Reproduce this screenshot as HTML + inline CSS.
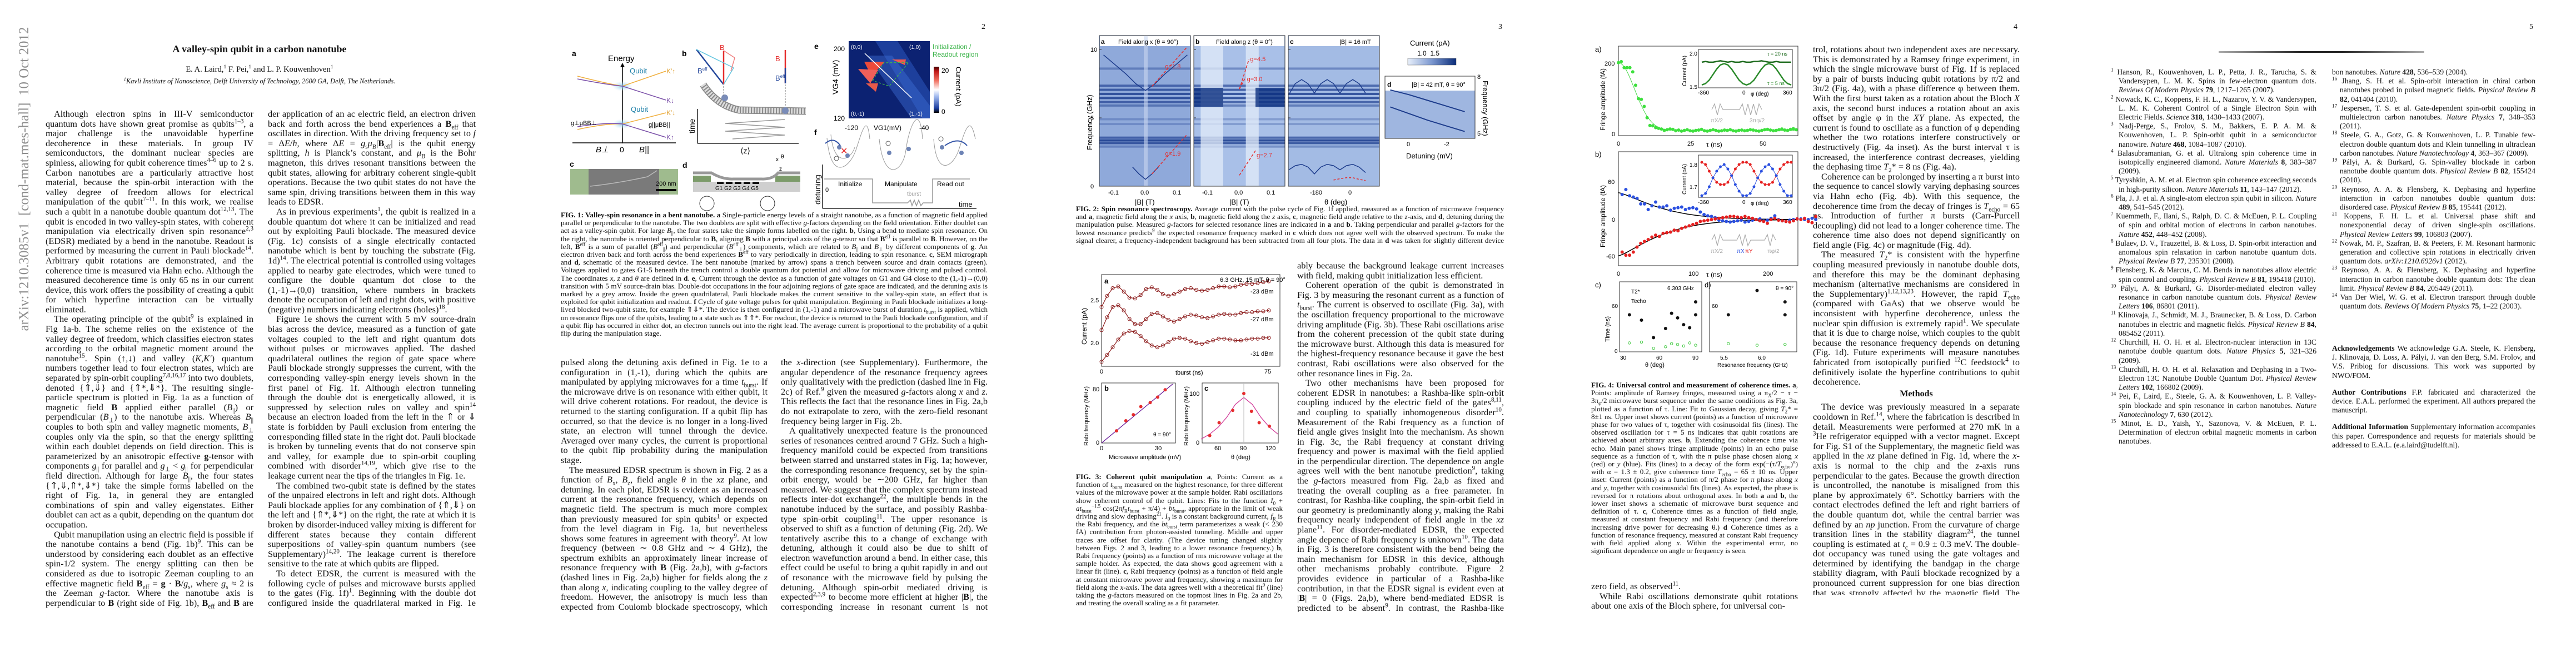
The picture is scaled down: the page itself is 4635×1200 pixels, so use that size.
<!DOCTYPE html>
<html lang="en">
<head>
<meta charset="utf-8">
<title>A valley-spin qubit in a carbon nanotube</title>
<style>
html,body{margin:0;padding:0;background:#fff;}
body{width:4635px;height:1200px;position:relative;overflow:hidden;font-family:"Liberation Serif",serif;color:#111;}
.col{position:absolute;font-size:16.3px;line-height:17.6px;text-align:justify;overflow:hidden;hyphens:auto;}
.col p{margin:0;text-indent:15px;}
.col p.ni{text-indent:0;}
.cap{position:absolute;font-size:13.1px;line-height:14.2px;text-align:justify;overflow:hidden;hyphens:auto;}
.ref{position:absolute;font-size:13.6px;line-height:16.2px;text-align:justify;overflow:hidden;hyphens:auto;}
.ref p{margin:0;padding-left:14px;text-indent:-14px;}
sup,sub{font-size:68%;line-height:0;}
.pn{position:absolute;top:41px;font-size:14px;}
h3{margin:4px 0 6px 0;font-size:16px;text-align:center;font-weight:bold;}
#figs{position:absolute;left:0;top:0;}
</style>
</head>
<body>

<div style="position:absolute;left:44px;top:322px;transform:translate(-50%,-50%) rotate(-90deg);white-space:nowrap;color:#8d8d8d;font-size:25px;">arXiv:1210.3085v1&nbsp; [cond-mat.mes-hall]&nbsp; 10 Oct 2012</div>

<div style="position:absolute;left:82px;width:770px;top:78px;text-align:center;font-weight:bold;font-size:18px;">A valley-spin qubit in a carbon nanotube</div>
<div style="position:absolute;left:82px;width:770px;top:117px;text-align:center;font-size:14.5px;">E. A. Laird,<sup>1</sup> F. Pei,<sup>1</sup> and L. P. Kouwenhoven<sup>1</sup></div>
<div style="position:absolute;left:82px;width:770px;top:139px;text-align:center;font-size:12.5px;font-style:italic;"><sup>1</sup>Kavli Institute of Nanoscience, Delft University of Technology, 2600 GA, Delft, The Netherlands.</div>

<div class="pn" style="left:1766px;">2</div>
<div class="pn" style="left:2696px;">3</div>
<div class="pn" style="left:3623px;">4</div>
<div class="pn" style="left:4551px;">5</div>

<!-- PAGE 1 -->
<div class="col" style="left:82px;top:196px;width:374px;height:900px;">
<p>Although electron spins in III-V semiconductor quantum dots have shown great promise as qubits<sup>1–3</sup>, a major challenge is the unavoidable hyperfine decoherence in these materials. In group IV semiconductors, the dominant nuclear species are spinless, allowing for qubit coherence times<sup>4–6</sup> up to 2 s. Carbon nanotubes are a particularly attractive host material, because the spin-orbit interaction with the valley degree of freedom allows for electrical manipulation of the qubit<sup>7–11</sup>. In this work, we realise such a qubit in a nanotube double quantum dot<sup>12,13</sup>. The qubit is encoded in two valley-spin states, with coherent manipulation via electrically driven spin resonance<sup>2,3</sup> (EDSR) mediated by a bend in the nanotube. Readout is performed by measuring the current in Pauli blockade<sup>14</sup>. Arbitrary qubit rotations are demonstrated, and the coherence time is measured via Hahn echo. Although the measured decoherence time is only 65 ns in our current device, this work offers the possibility of creating a qubit for which hyperfine interaction can be virtually eliminated.</p>
<p>The operating principle of the qubit<sup>9</sup> is explained in Fig 1a-b. The scheme relies on the existence of the valley degree of freedom, which classifies electron states according to the orbital magnetic moment around the nanotube<sup>15</sup>. Spin (↑,↓) and valley (<i>K</i>,<i>K′</i>) quantum numbers together lead to four electron states, which are separated by spin-orbit coupling<sup>7,8,16,17</sup> into two doublets, denoted {⇑,⇓} and {⇑*,⇓*}. The resulting single-particle spectrum is plotted in Fig. 1a as a function of magnetic field <b>B</b> applied either parallel (<i>B</i><sub>||</sub>) or perpendicular (<i>B</i><sub>⊥</sub>) to the nanotube axis. Whereas <i>B</i><sub>||</sub> couples to both spin and valley magnetic moments, <i>B</i><sub>⊥</sub> couples only via the spin, so that the energy splitting within each doublet depends on field direction. This is parameterized by an anisotropic effective <b>g</b>-tensor with components <i>g</i><sub>||</sub> for parallel and <i>g</i><sub>⊥</sub> &lt; <i>g</i><sub>||</sub> for perpendicular field direction. Although for large <i>B</i><sub>||</sub>, the four states {⇑,⇓,⇑*,⇓*} take the simple forms labelled on the right of Fig. 1a, in general they are entangled combinations of spin and valley eigenstates. Either doublet can act as a qubit, depending on the quantum dot occupation.</p>
<p>Qubit manupilation using an electric field is possible if the nanotube contains a bend (Fig. 1b)<sup>9</sup>. This can be understood by considering each doublet as an effective spin-1/2 system. The energy splitting can then be considered as due to isotropic Zeeman coupling to an effective magnetic field <b>B</b><sub>eff</sub> = <b>g</b> · <b>B</b>/<i>g</i><sub>s</sub>, where <i>g</i><sub>s</sub> ≈ 2 is the Zeeman <i>g</i>-factor. Where the nanotube axis is perpendicular to <b>B</b> (right side of Fig. 1b), <b>B</b><sub>eff</sub> and <b>B</b> are parallel. However, where the nanotube axis is at an angle (left side of Fig. 1b), the components <i>B</i><sub>||</sub> and <i>B</i><sub>⊥</sub> contribute differently to <b>B</b><sub>eff</sub>, tilting <b>B</b><sub>eff</sub> away from <b>B</b>. Under application of an ac electric field, an electron driven back and forth.</p>
</div>
<div class="col" style="left:482px;top:196px;width:374px;height:900px;">
<p class="ni">der application of an ac electric field, an electron driven back and forth across the bend experiences a <b>B</b><sub>eff</sub> that oscillates in direction. With the driving frequency set to <i>f</i> = Δ<i>E</i>/<i>h</i>, where Δ<i>E</i> = <i>g</i><sub>s</sub><i>μ</i><sub>B</sub>|<b>B</b><sub>eff</sub>| is the qubit energy splitting, <i>h</i> is Planck’s constant, and <i>μ</i><sub>B</sub> is the Bohr magneton, this drives resonant transitions between the qubit states, allowing for arbitrary coherent single-qubit operations. Because the two qubit states do not have the same spin, driving transitions between them in this way leads to EDSR.</p>
<p>As in previous experiments<sup>1</sup>, the qubit is realized in a double quantum dot where it can be initialized and read out by exploiting Pauli blockade. The measured device (Fig. 1c) consists of a single electrically contacted nanotube which is bent by touching the substrate (Fig. 1d)<sup>14</sup>. The electrical potential is controlled using voltages applied to nearby gate electrodes, which were tuned to configure the double quantum dot close to the (1,-1)→(0,0) transition, where numbers in brackets denote the occupation of left and right dots, with positive (negative) numbers indicating electrons (holes)<sup>18</sup>.</p>
<p>Figure 1e shows the current with 5 mV source-drain bias across the device, measured as a function of gate voltages coupled to the left and right quantum dots without pulses or microwaves applied. The dashed quadrilateral outlines the region of gate space where Pauli blockade strongly suppresses the current, with the corresponding valley-spin energy levels shown in the first panel of Fig. 1f. Although electron tunneling through the double dot is energetically allowed, it is suppressed by selection rules on valley and spin<sup>14</sup> because an electron loaded from the left in the ⇑ or ⇓ state is forbidden by Pauli exclusion from entering the corresponding filled state in the right dot. Pauli blockade is broken by tunneling events that do not conserve spin and valley, for example due to spin-orbit coupling combined with disorder<sup>14,19</sup>, which give rise to the leakage current near the tips of the triangles in Fig. 1e.</p>
<p>The combined two-qubit state is defined by the states of the unpaired electrons in left and right dots. Although Pauli blockade applies for any combination of {⇑,⇓} on the left and {⇑*,⇓*} on the right, the rate at which it is broken by disorder-induced valley mixing is different for different states because they contain different superpositions of valley-spin quantum numbers (see Supplementary)<sup>14,20</sup>. The leakage current is therefore sensitive to the rate at which qubits are flipped.</p>
<p>To detect EDSR, the current is measured with the following cycle of pulses and microwave bursts applied to the gates (Fig. 1f)<sup>1</sup>. Beginning with the double dot configured inside the quadrilateral marked in Fig. 1e initializes a long-lived blocked state. The device is then pulsed along the detuning axis.</p>
</div>

<!-- PAGE 2 -->
<div class="cap" style="left:1009px;top:380px;width:768px;height:244px;"><b>FIG. 1: Valley-spin resonance in a bent nanotube.</b> <b>a</b> Single-particle energy levels of a straight nanotube, as a function of magnetic field applied parallel or perpendicular to the nanotube. The two doublets are split with effective <i>g</i>-factors depending on the field orientation. Either doublet can act as a valley-spin qubit. For large <i>B</i><sub>||</sub>, the four states take the simple forms labelled on the right. <b>b</b>, Using a bend to mediate spin resonance. On the right, the nanotube is oriented perpendicular to <b>B</b>, aligning <b>B</b> with a principal axis of the <i>g</i>-tensor so that <b>B</b><sup>eff</sup> is parallel to <b>B</b>. However, on the left, <b>B</b><sup>eff</sup> is a sum of parallel (<i>B</i><sup>eff</sup><sub>||</sub>) and perpendicular (<i>B</i><sup>eff</sup><sub>⊥</sub>) components, which are related to <i>B</i><sub>||</sub> and <i>B</i><sub>⊥</sub> by different components of <b>g</b>. An electron driven back and forth across the bend experiences <b>B</b><sup>eff</sup> to vary periodically in direction, leading to spin resonance. <b>c</b>, SEM micrograph and <b>d</b>, schematic of the measured device. The bent nanotube (marked by arrow) spans a trench between source and drain contacts (green). Voltages applied to gates G1-5 beneath the trench control a double quantum dot potential and allow for microwave driving and pulsed control. The coordinates <i>x</i>, <i>z</i> and <i>θ</i> are defined in <b>d</b>. <b>e</b>, Current through the device as a function of gate voltages on G1 and G4 close to the (1,-1)→(0,0) transition with 5 mV source-drain bias. Double-dot occupations in the four adjoining regions of gate space are indicated, and the detuning axis is marked by a grey arrow. Inside the green quadrilateral, Pauli blockade makes the current sensitive to the valley-spin state, an effect that is exploited for qubit initialization and readout. <b>f</b> Cycle of gate voltage pulses for qubit manipulation. Beginning in Pauli blockade initializes a long-lived blocked two-qubit state, for example ⇑⇓*. The device is then configured in (1,-1) and a microwave burst of duration <i>t</i><sub>burst</sub> is applied, which on resonance flips one of the qubits, leading to a state such as ⇑⇑*. For readout, the device is returned to the Pauli blockade configuration, and if a qubit flip has occurred in either dot, an electron tunnels out into the right lead. The average current is proportional to the probability of a qubit flip during the manipulation stage.</div>

<div class="col" style="left:1009px;top:643px;width:372px;height:459px;">
<p class="ni">pulsed along the detuning axis defined in Fig. 1e to a configuration in (1,-1), during which the qubits are manipulated by applying microwaves for a time <i>t</i><sub>burst</sub>. If the microwave drive is on resonance with either qubit, it will drive coherent rotations. For readout, the device is returned to the starting configuration. If a qubit flip has occurred, so that the device is no longer in a long-lived state, an electron will tunnel through the device. Averaged over many cycles, the current is proportional to the qubit flip probability during the manipulation stage.</p>
<p>The measured EDSR spectrum is shown in Fig. 2 as a function of <i>B</i><sub>x</sub>, <i>B</i><sub>z</sub>, field angle <i>θ</i> in the <i>xz</i> plane, and detuning. In each plot, EDSR is evident as an increased current at the resonance frequency, which depends on magnetic field. The spectrum is much more complex than previously measured for spin qubits<sup>1</sup> or expected from the level diagram in Fig. 1a, but nevertheless shows some features in agreement with theory<sup>9</sup>. At low frequency (between ∼ 0.8 GHz and ∼ 4 GHz), the spectrum exhibits an approximately linear increase of resonance frequency with <b>B</b> (Fig. 2a,b), with <i>g</i>-factors (dashed lines in Fig. 2a,b) higher for fields along the <i>z</i> than along <i>x</i>, indicating coupling to the valley degree of freedom. However, the anisotropy is much less than expected from Coulomb blockade spectroscopy, which yields <i>g</i>-factors larger in the <i>z</i> direction and a smaller in the x direction, as measured previously in similar devices with comparable tuning of the gates and bias across the double dot in the same cooldown.</p>
</div>
<div class="col" style="left:1405px;top:643px;width:372px;height:459px;">
<p class="ni">the <i>x</i>-direction (see Supplementary). Furthermore, the angular dependence of the resonance frequency agrees only qualitatively with the prediction (dashed line in Fig. 2c) of Ref.<sup>9</sup> given the measured <i>g</i>-factors along <i>x</i> and <i>z</i>. This reflects the fact that the resonance lines in Fig. 2a,b do not extrapolate to zero, with the zero-field resonant frequency being larger in Fig. 2b.</p>
<p>A qualitatively unexpected feature is the pronounced series of resonances centred around 7 GHz. Such a high-frequency manifold could be expected from transitions between starred and unstarred states in Fig. 1a; however, the corresponding resonance frequency, set by the spin-orbit energy, would be ∼200 GHz, far higher than measured. We suggest that the complex spectrum instead reflects inter-dot exchange<sup>22</sup>, the multiple bends in the nanotube induced by the surface, and possibly Rashba-type spin-orbit coupling<sup>11</sup>. The upper resonance is observed to shift as a function of detuning (Fig. 2d). We tentatively ascribe this to a change of exchange with detuning, although it could also be due to shift of electron wavefunction around a bend. In either case, this effect could be useful to bring a qubit rapidly in and out of resonance with the microwave field by pulsing the detuning. Although spin-orbit mediated driving is expected<sup>2,3,9</sup> to become more efficient at higher |<b>B</b>|, the corresponding increase in resonant current is not observed. This is probably because the background leakage current increases with field.</p>
</div>

<!-- PAGE 3 -->
<div class="cap" style="left:1936px;top:369px;width:770px;height:74px;"><b>FIG. 2: Spin resonance spectroscopy.</b> Average current with the pulse cycle of Fig. 1f applied, measured as a function of microwave frequency and <b>a</b>, magnetic field along the <i>x</i> axis, <b>b</b>, magnetic field along the <i>z</i> axis, <b>c</b>, magnetic field angle relative to the <i>z</i>-axis, and <b>d</b>, detuning during the manipulation pulse. Measured <i>g</i>-factors for selected resonance lines are indicated in <b>a</b> and <b>b</b>. Taking perpendicular and parallel <i>g</i>-factors for the lowest resonance predicts<sup>9</sup> the expected resonance frequency marked in <b>c</b> which does not agree well with the observed spectrum. To make the signal clearer, a frequency-independent background has been subtracted from all four plots. The data in <b>d</b> was taken for slightly different device tuning than in <b>a-c</b>.</div>

<div class="cap" style="left:1936px;top:851px;width:372px;height:258px;"><b>FIG. 3: Coherent qubit manipulation a</b>, Points: Current as a function of <i>t</i><sub>burst</sub> measured on the highest resonance, for three different values of the microwave power at the sample holder. Rabi oscillations show coherent control of the qubit. Lines: Fits to the function <i>I</i><sub>0</sub> + <i>a</i><i>t</i><sub>burst</sub><sup>−1.5</sup> cos(2π<i>f</i><sub>R</sub><i>t</i><sub>burst</sub> + π/4) + <i>b</i><i>t</i><sub>burst</sub>, appropriate in the limit of weak driving and slow dephasing<sup>21</sup>. <i>I</i><sub>0</sub> is a constant background current, <i>f</i><sub>R</sub> is the Rabi frequency, and the <i>b</i><i>t</i><sub>burst</sub> term parameterizes a weak (&lt; 230 fA) contribution from photon-assisted tunneling. Middle and upper traces are offset for clarity. (The device tuning changed slightly between Figs. 2 and 3, leading to a lower resonance frequency.) <b>b</b>, Rabi frequency (points) as a function of rms microwave voltage at the sample holder. As expected, the data shows good agreement with a linear fit (line). <b>c</b>, Rabi frequency (points) as a function of field angle at constant microwave power and frequency, showing a maximum for field along the <i>x</i>-axis. The data agrees well with a theoretical fit<sup>9</sup> (line) taking the <i>g</i>-factors measured on the topmost lines in Fig. 2a and 2b, and treating the overall scaling as a fit parameter.</div>

<div class="col" style="left:2334px;top:469px;width:372px;height:632px;">
<p class="ni">ably because the background leakage current increases with field, making qubit initialization less efficient.</p>
<p>Coherent operation of the qubit is demonstrated in Fig. 3 by measuring the resonant current as a function of <i>t</i><sub>burst</sub>. The current is observed to oscillate (Fig. 3a), with the oscillation frequency proportional to the microwave driving amplitude (Fig. 3b). These Rabi oscillations arise from the coherent precession of the qubit state during the microwave burst. Although this data is measured for the highest-frequency resonance because it gave the best contrast, Rabi oscillations were also observed for the other resonance lines in Fig. 2a.</p>
<p>Two other mechanisms have been proposed for coherent EDSR in nanotubes: a Rashba-like spin-orbit coupling induced by the electric field of the gates<sup>8,11</sup>, and coupling to spatially inhomogeneous disorder<sup>10</sup>. Measurement of the Rabi frequency as a function of field angle gives insight into the mechanism. As shown in Fig. 3c, the Rabi frequency at constant driving frequency and power is maximal with the field applied in the perpendicular direction. The dependence on angle agrees well with the bent nanotube prediction<sup>9</sup>, taking the <i>g</i>-factors measured from Fig. 2a,b as fixed and treating the overall coupling as a free parameter. In contrast, for Rashba-like coupling, the spin-orbit field in our geometry is predominantly along <i>y</i>, making the Rabi frequency nearly independent of field angle in the <i>xz</i> plane<sup>11</sup>. For disorder-mediated EDSR, the expected angle depence of Rabi frequency is unknown<sup>10</sup>. The data in Fig. 3 is therefore consistent with the bend being the main mechanism for EDSR in this device, although other mechanisms probably contribute. Figure 2 provides evidence in particular of a Rashba-like contribution, in that the EDSR signal is evident even at |<b>B</b>| = 0 (Figs. 2a,b), where bend-mediated EDSR is predicted to be absent<sup>9</sup>. In contrast, the Rashba-like mechanism gives a finite signal even at zero field, which would be consistent with the resonance lines that do not extrapolate to zero frequency in the spectra measured for both field orientations.</p>
</div>

<!-- PAGE 4 -->
<div class="cap" style="left:2863px;top:686px;width:372px;height:330px;"><b>FIG. 4: Universal control and measurement of coherence times. a</b>, Points: amplitude of Ramsey fringes, measured using a π<sub>X</sub>/2 − τ − 3π<sub>φ</sub>/2 microwave burst sequence under the same conditions as Fig. 3a, plotted as a function of τ. Line: Fit to Gaussian decay, giving <i>T</i><sub>2</sub>* = 8±1 ns. Upper inset shows current (points) as a function of microwave phase for two values of τ, together with cosinusoidal fits (lines). The observed oscillation for τ = 5 ns indicates that qubit rotations are achieved about arbitrary axes. <b>b</b>, Extending the coherence time via echo. Main panel shows fringe amplitude (points) in an echo pulse sequence as a function of τ, with the π pulse phase chosen along <i>x</i> (red) or <i>y</i> (blue). Fits (lines) to a decay of the form exp(−(τ/<i>T</i><sub>echo</sub>)<sup>α</sup>) with α = 1.3 ± 0.2, give coherence time <i>T</i><sub>echo</sub> = 65 ± 10 ns. Upper inset: Current (points) as a function of π/2 phase for π phase along <i>x</i> and <i>y</i>, together with cosinusoidal fits (lines). As expected, the phase is reversed for π rotations about orthogonal axes. In both <b>a</b> and <b>b</b>, the lower inset shows a schematic of microwave burst sequence and definition of τ. <b>c</b>, Coherence times as a function of field angle, measured at constant frequency and Rabi frequency (and therefore increasing drive power for decreasing θ.) <b>d</b> Coherence times as a function of resonance frequency, measured at constant Rabi frequency with field applied along <i>x</i>. Within the experimental error, no significant dependence on angle or frequency is seen.</div>

<div class="col" style="left:2863px;top:1046px;width:372px;height:56px;">
<p class="ni">zero field, as observed<sup>11</sup>.</p>
<p>While Rabi oscillations demonstrate qubit rotations about one axis of the Bloch sphere, for universal con-</p>
</div>

<div class="col" style="left:3262px;top:80px;width:372px;height:990px;">
<p class="ni">trol, rotations about two independent axes are necessary. This is demonstrated by a Ramsey fringe experiment, in which the single microwave burst of Fig. 1f is replaced by a pair of bursts inducing qubit rotations by π/2 and 3π/2 (Fig. 4a), with a phase difference φ between them. With the first burst taken as a rotation about the Bloch <i>X</i> axis, the second burst induces a rotation about an axis offset by angle φ in the <i>XY</i> plane. As expected, the current is found to oscillate as a function of φ depending whether the two rotations interfere constructively or destructively (Fig. 4a inset). As the burst interval τ is increased, the interference contrast decreases, yielding the dephasing time <i>T</i><sub>2</sub>* = 8 ns (Fig. 4a).</p>
<p>Coherence can be prolonged by inserting a π burst into the sequence to cancel slowly varying dephasing sources via Hahn echo (Fig. 4b). With this sequence, the decoherence time from the decay of fringes is <i>T</i><sub>echo</sub> = 65 ns. Introduction of further π bursts (Carr-Purcell decoupling) did not lead to a longer coherence time. The coherence time also does not depend significantly on field angle (Fig. 4c) or magnitude (Fig. 4d).</p>
<p>The measured <i>T</i><sub>2</sub>* is consistent with the hyperfine coupling measured previously in nanotube double dots, and therefore this may be the dominant dephasing mechanism (alternative mechanisms are considered in the Supplementary)<sup>1,12,13,23</sup>. However, the rapid <i>T</i><sub>echo</sub> (compared with GaAs) that we observe would be inconsistent with hyperfine decoherence, unless the nuclear spin diffusion is extremely rapid<sup>1</sup>. We speculate that it is due to charge noise, which couples to the qubit because the resonance frequency depends on detuning (Fig. 1d). Future experiments will measure nanotubes fabricated from isotopically purified <sup>12</sup>C feedstock<sup>4</sup> to definitively isolate the hyperfine contributions to qubit decoherence.</p>
<h3>Methods</h3>
<p>The device was previously measured in a separate cooldown in Ref.<sup>14</sup>, where the fabrication is described in detail. Measurements were performed at 270 mK in a <sup>3</sup>He refrigerator equipped with a vector magnet. Except for Fig. S1 of the Supplementary, the magnetic field was applied in the <i>xz</i> plane defined in Fig. 1d, where the <i>x</i>-axis is normal to the chip and the <i>z</i>-axis runs perpendicular to the gates. Because the growth direction is uncontrolled, the nanotube is misaligned from this plane by approximately 6°. Schottky barriers with the contact electrodes defined the left and right barriers of the double quantum dot, while the central barrier was defined by an <i>np</i> junction. From the curvature of charge transition lines in the stability diagram<sup>24</sup>, the tunnel coupling is estimated at <i>t</i><sub>c</sub> = 0.9 ± 0.3 meV. The double-dot occupancy was tuned using the gate voltages and determined by identifying the bandgap in the charge stability diagram, with Pauli blockade recognized by a pronounced current suppression for one bias direction that was strongly affected by the magnetic field. The duration of the overall pulse cycle was typically 1 μs, split between a measurement pulse of ∼400 ns and a manipulation pulse of ∼ 600 ns.</p>
</div>

<!-- PAGE 5 -->
<div style="position:absolute;left:3992px;top:92px;width:370px;height:3px;background:linear-gradient(90deg,#aaa,#222 40%,#222 60%,#aaa);"></div>
<div class="ref" style="left:3798px;top:122px;width:370px;height:686px;">
<p><sup>1</sup> Hanson, R., Kouwenhoven, L. P., Petta, J. R., Tarucha, S. &amp; Vandersypen, L. M. K. Spins in few-electron quantum dots. <i>Reviews Of Modern Physics</i> <b>79</b>, 1217–1265 (2007).</p>
<p><sup>2</sup> Nowack, K. C., Koppens, F. H. L., Nazarov, Y. V. &amp; Vandersypen, L. M. K. Coherent Control of a Single Electron Spin with Electric Fields. <i>Science</i> <b>318</b>, 1430–1433 (2007).</p>
<p><sup>3</sup> Nadj-Perge, S., Frolov, S. M., Bakkers, E. P. A. M. &amp; Kouwenhoven, L. P. Spin-orbit qubit in a semiconductor nanowire. <i>Nature</i> <b>468</b>, 1084–1087 (2010).</p>
<p><sup>4</sup> Balasubramanian, G. et al. Ultralong spin coherence time in isotopically engineered diamond. <i>Nature Materials</i> <b>8</b>, 383–387 (2009).</p>
<p><sup>5</sup> Tyryshkin, A. M. et al. Electron spin coherence exceeding seconds in high-purity silicon. <i>Nature Materials</i> <b>11</b>, 143–147 (2012).</p>
<p><sup>6</sup> Pla, J. J. et al. A single-atom electron spin qubit in silicon. <i>Nature</i> <b>489</b>, 541–545 (2012).</p>
<p><sup>7</sup> Kuemmeth, F., Ilani, S., Ralph, D. C. &amp; McEuen, P. L. Coupling of spin and orbital motion of electrons in carbon nanotubes. <i>Nature</i> <b>452</b>, 448–452 (2008).</p>
<p><sup>8</sup> Bulaev, D. V., Trauzettel, B. &amp; Loss, D. Spin-orbit interaction and anomalous spin relaxation in carbon nanotube quantum dots. <i>Physical Review B</i> <b>77</b>, 235301 (2008).</p>
<p><sup>9</sup> Flensberg, K. &amp; Marcus, C. M. Bends in nanotubes allow electric spin control and coupling. <i>Physical Review B</i> <b>81</b>, 195418 (2010).</p>
<p><sup>10</sup> Pályi, A. &amp; Burkard, G. Disorder-mediated electron valley resonance in carbon nanotube quantum dots. <i>Physical Review Letters</i> <b>106</b>, 86801 (2011).</p>
<p><sup>11</sup> Klinovaja, J., Schmidt, M. J., Braunecker, B. &amp; Loss, D. Carbon nanotubes in electric and magnetic fields. <i>Physical Review B</i> <b>84</b>, 085452 (2011).</p>
<p><sup>12</sup> Churchill, H. O. H. et al. Electron-nuclear interaction in 13C nanotube double quantum dots. <i>Nature Physics</i> <b>5</b>, 321–326 (2009).</p>
<p><sup>13</sup> Churchill, H. O. H. et al. Relaxation and Dephasing in a Two-Electron 13C Nanotube Double Quantum Dot. <i>Physical Review Letters</i> <b>102</b>, 166802 (2009).</p>
<p><sup>14</sup> Pei, F., Laird, E., Steele, G. A. &amp; Kouwenhoven, L. P. Valley-spin blockade and spin resonance in carbon nanotubes. <i>Nature Nanotechnology</i> <b>7</b>, 630 (2012).</p>
<p><sup>15</sup> Minot, E. D., Yaish, Y., Sazonova, V. &amp; McEuen, P. L. Determination of electron orbital magnetic moments in carbon nanotubes.</p>
</div>
<div class="ref" style="left:4196px;top:122px;width:366px;height:470px;">
<p style="padding-left:0;text-indent:0;">bon nanotubes. <i>Nature</i> <b>428</b>, 536–539 (2004).</p>
<p><sup>16</sup> Jhang, S. H. et al. Spin-orbit interaction in chiral carbon nanotubes probed in pulsed magnetic fields. <i>Physical Review B</i> <b>82</b>, 041404 (2010).</p>
<p><sup>17</sup> Jespersen, T. S. et al. Gate-dependent spin-orbit coupling in multielectron carbon nanotubes. <i>Nature Physics</i> <b>7</b>, 348–353 (2011).</p>
<p><sup>18</sup> Steele, G. A., Gotz, G. &amp; Kouwenhoven, L. P. Tunable few-electron double quantum dots and Klein tunnelling in ultraclean carbon nanotubes. <i>Nature Nanotechnology</i> <b>4</b>, 363–367 (2009).</p>
<p><sup>19</sup> Pályi, A. &amp; Burkard, G. Spin-valley blockade in carbon nanotube double quantum dots. <i>Physical Review B</i> <b>82</b>, 155424 (2010).</p>
<p><sup>20</sup> Reynoso, A. A. &amp; Flensberg, K. Dephasing and hyperfine interaction in carbon nanotubes double quantum dots: disordered case. <i>Physical Review B</i> <b>85</b>, 195441 (2012).</p>
<p><sup>21</sup> Koppens, F. H. L. et al. Universal phase shift and nonexponential decay of driven single-spin oscillations. <i>Physical Review Letters</i> <b>99</b>, 106803 (2007).</p>
<p><sup>22</sup> Nowak, M. P., Szafran, B. &amp; Peeters, F. M. Resonant harmonic generation and collective spin rotations in electrically driven quantum dots. <i>arXiv:1210.6926v1</i> (2012).</p>
<p><sup>23</sup> Reynoso, A. A. &amp; Flensberg, K. Dephasing and hyperfine interaction in carbon nanotube double quantum dots: The clean limit. <i>Physical Review B</i> <b>84</b>, 205449 (2011).</p>
<p><sup>24</sup> Van Der Wiel, W. G. et al. Electron transport through double quantum dots. <i>Reviews Of Modern Physics</i> <b>75</b>, 1–22 (2003).</p>
</div>
<div class="ref" style="left:4196px;top:619px;width:366px;height:200px;">
<p style="padding-left:0;text-indent:0;"><b>Acknowledgements</b> We acknowledge G.A. Steele, K. Flensberg, J. Klinovaja, D. Loss, A. Pályi, J. van den Berg, S.M. Frolov, and V.S. Pribiog for discussions. This work was supported by NWO/FOM.</p>
<p style="padding-left:0;text-indent:0;margin-top:14px;"><b>Author Contributions</b> F.P. fabricated and characterized the device. E.A.L. performed the experiment. All authors prepared the manuscript.</p>
<p style="padding-left:0;text-indent:0;margin-top:14px;"><b>Additional Information</b> Supplementary information accompanies this paper. Correspondence and requests for materials should be addressed to E.A.L. (e.a.laird@tudelft.nl).</p>
</div>

<!-- FIGURES -->
<svg id="figs" width="4635" height="1200" viewBox="0 0 4635 1200" font-family="Liberation Sans, sans-serif">
<defs>
<radialGradient id="glow"><stop offset="0" stop-color="#7fc4e8" stop-opacity="0.9"/><stop offset="1" stop-color="#bfe3f5" stop-opacity="0"/></radialGradient>
<linearGradient id="cbar1" x1="0" y1="1" x2="0" y2="0"><stop offset="0" stop-color="#000"/><stop offset="0.1" stop-color="#1d3fa0"/><stop offset="0.35" stop-color="#9fb8ee"/><stop offset="0.5" stop-color="#fff"/><stop offset="0.7" stop-color="#f07060"/><stop offset="0.9" stop-color="#c01818"/><stop offset="1" stop-color="#400"/></linearGradient>
<linearGradient id="cbar2" x1="0" y1="0" x2="1" y2="0"><stop offset="0" stop-color="#e8effa"/><stop offset="0.5" stop-color="#7b97cf"/><stop offset="1" stop-color="#0b2d7a"/></linearGradient>
</defs>

<!-- Figure 1 static drawing -->
<g font-size="12">
 <g>
  <text x="1029" y="101" font-weight="bold" font-size="14">a</text>
  <text x="1094" y="110" font-size="15">Energy</text>
  <line x1="1120" y1="258" x2="1120" y2="118" stroke="#000" stroke-width="1.5"/>
  <polygon points="1116,121 1120,113 1124,121" fill="#000"/>
  <line x1="1030" y1="257" x2="1216" y2="257" stroke="#000" stroke-width="1.5"/>
  <ellipse cx="1120" cy="155" rx="18" ry="9" fill="url(#glow)"/>
  <ellipse cx="1120" cy="223" rx="18" ry="9" fill="url(#glow)"/>
  <path d="M1039,137 Q1090,150 1120,155 L1198,128" fill="none" stroke="#f0b040" stroke-width="1.5"/>
  <path d="M1039,142 Q1090,152 1120,155 L1198,180" fill="none" stroke="#7a4fa8" stroke-width="1.5"/>
  <path d="M1039,233 Q1090,222 1120,223 L1198,203" fill="none" stroke="#f0b040" stroke-width="1.5"/>
  <path d="M1039,228 Q1090,220 1120,223 L1198,247" fill="none" stroke="#7a4fa8" stroke-width="1.5"/>
  <text x="1133" y="132" fill="#1c7fa8" font-size="13">Qubit</text>
  <text x="1135" y="201" fill="#1c7fa8" font-size="13">Qubit</text>
  <text x="1199" y="132" fill="#e0a030" font-size="12">K′↑</text>
  <text x="1199" y="185" fill="#7a4fa8" font-size="12">K↓</text>
  <text x="1199" y="207" fill="#e0a030" font-size="12">K′↓</text>
  <text x="1199" y="251" fill="#7a4fa8" font-size="12">K↑</text>
  <text x="1027" y="225" font-size="11">g⊥μBB⊥</text>
  <text x="1167" y="228" font-size="11">g||μBB||</text>
  <text x="1072" y="274" font-size="15" font-style="italic">B⊥</text>
  <text x="1115" y="274" font-size="14">0</text>
  <text x="1150" y="274" font-size="15" font-style="italic">B||</text>
 </g>
 <g>
  <text x="1227" y="101" font-weight="bold" font-size="14">b</text>
  <path d="M1265,152 Q1290,190 1330,198 L1450,200" fill="none" stroke="#888" stroke-width="13"/>
  <path d="M1265,152 Q1290,190 1330,198 L1450,200" fill="none" stroke="#ddd" stroke-width="10" stroke-dasharray="3 2"/>
  <circle cx="1304" cy="176" r="6" fill="#7a8cb8"/>
  <circle cx="1413" cy="199" r="6" fill="#7a8cb8"/>
  <line x1="1302" y1="152" x2="1253" y2="89" stroke="#23469a" stroke-width="2.5"/>
  <line x1="1302" y1="152" x2="1302" y2="91" stroke="#e52d2d" stroke-width="2.5"/>
  <line x1="1302" y1="152" x2="1320" y2="122" stroke="#63c6e0" stroke-width="1.5"/>
  <line x1="1253" y1="89" x2="1320" y2="122" stroke="#63c6e0" stroke-width="1.5"/>
  <line x1="1302" y1="91" x2="1322" y2="104" stroke="#ef8080" stroke-width="1.5"/>
  <line x1="1322" y1="104" x2="1315" y2="128" stroke="#ef8080" stroke-width="1.5"/>
  <line x1="1302" y1="155" x2="1302" y2="172" stroke="#777" stroke-dasharray="3 2"/>
  <line x1="1413" y1="90" x2="1413" y2="150" stroke="#e52d2d" stroke-width="2.5"/>
  <line x1="1413" y1="122" x2="1413" y2="150" stroke="#23469a" stroke-width="2.5"/>
  <line x1="1413" y1="152" x2="1413" y2="192" stroke="#777" stroke-dasharray="3 2"/>
  <text x="1295" y="90" fill="#e52d2d" font-size="13">B</text>
  <text x="1395" y="110" fill="#e52d2d" font-size="13">B</text>
  <text x="1395" y="145" fill="#23469a" font-size="13">B<tspan font-size="8" dy="-5">eff</tspan></text>
  <text x="1255" y="132" fill="#23469a" font-size="13">B<tspan font-size="8" dy="-5">eff</tspan></text>
  <line x1="1255" y1="258" x2="1255" y2="196" stroke="#000" stroke-width="1.3"/>
  <line x1="1255" y1="258" x2="1437" y2="258" stroke="#000" stroke-width="1.3"/>
  <text x="0" y="0" font-size="14" transform="translate(1250,240) rotate(-90)">time</text>
  <path d="M1412,215 L1305,222 L1412,229 L1305,236 L1412,243 L1318,250" fill="none" stroke="#999" stroke-width="1.5"/>
  <text x="1332" y="276" font-size="14">⟨z⟩</text>
 </g>
 <g>
  <text x="1025" y="300" font-weight="bold" font-size="14">c</text>
  <rect x="1026" y="304" width="194" height="46" fill="#7a7a7a"/>
  <rect x="1026" y="304" width="33" height="46" fill="#9fbb8e"/>
  <rect x="1186" y="304" width="34" height="46" fill="#9fbb8e"/>
  <path d="M1062,335 Q1110,330 1165,318 L1182,307" fill="none" stroke="#bbb" stroke-width="1.5"/>
  <rect x="1180" y="340" width="37" height="4" fill="#000"/>
  <text x="1180" y="334" font-size="11">200 nm</text>
 </g>
 <g>
  <text x="1228" y="302" font-weight="bold" font-size="14">d</text>
  <rect x="1247" y="327" width="193" height="18" fill="#cfcfcf"/>
  <rect x="1247" y="316" width="32" height="11" fill="#7c9b6a"/>
  <rect x="1395" y="316" width="45" height="11" fill="#7c9b6a"/>
  <path d="M1247,311 L1280,311 Q1300,323 1320,322 L1370,322 Q1390,323 1400,311 L1440,311" fill="none" stroke="#999" stroke-width="5"/>
  <rect x="1290" y="327" width="12" height="4" fill="#111"/><rect x="1306" y="327" width="12" height="4" fill="#111"/><rect x="1322" y="327" width="12" height="4" fill="#111"/><rect x="1338" y="327" width="12" height="4" fill="#111"/><rect x="1354" y="327" width="12" height="4" fill="#111"/>
  <text x="1287" y="342" font-size="10">G1 G2 G3 G4 G5</text>
  <circle cx="1272" cy="366" r="13" fill="none" stroke="#333"/>
  <circle cx="1381" cy="366" r="13" fill="none" stroke="#333"/>
  <text x="1396" y="290" font-size="10">x</text><text x="1402" y="307" font-size="10">z</text><text x="1405" y="285" font-size="10">θ</text>
 </g>
 <g>
  <text x="1465" y="88" font-weight="bold" font-size="14">e</text>
  <rect x="1527" y="74" width="146" height="139" fill="#0c2272"/>
  <polygon points="1575,74 1615,74 1673,165 1673,213 1660,213" fill="#2b58c0" opacity="0.55"/>
  <polygon points="1560,100 1605,100 1673,190 1673,213 1640,213" fill="#3f6fd6" opacity="0.45"/>
  <polygon points="1555,111 1592,111 1568,137" fill="#ec4a3a"/>
  <polygon points="1544,124 1580,126 1566,150" fill="#f0605a"/>
  <polygon points="1605,107 1630,107 1628,117" fill="#ee5a50"/>
  <polygon points="1558,150 1580,150 1576,165" fill="#e85a4a"/>
  <line x1="1556" y1="96" x2="1640" y2="176" stroke="#fff" stroke-width="1.5"/>
  <polyline points="1570,145 1590,113 1635,112 1600,155 1570,145" fill="none" stroke="#3cb44a" stroke-width="1.3" stroke-dasharray="4 3"/>
  <text x="1531" y="88" fill="#fff" font-size="10">(0,0)</text><text x="1636" y="88" fill="#fff" font-size="10">(1,0)</text>
  <text x="1531" y="208" fill="#fff" font-size="10">(0,-1)</text><text x="1636" y="208" fill="#fff" font-size="10">(1,-1)</text>
  <text x="1678" y="88" fill="#3cb44a" font-size="12">Initialization /</text>
  <text x="1678" y="102" fill="#3cb44a" font-size="12">Readout region</text>
  <rect x="1680" y="120" width="10" height="83" fill="url(#cbar1)"/>
  <text x="1694" y="131" font-size="12">20</text><text x="1694" y="205" font-size="12">0</text>
  <text x="0" y="0" font-size="13" transform="translate(1720,120) rotate(90)">Current (pA)</text>
  <text x="1500" y="92" font-size="12">200</text><text x="1500" y="217" font-size="12">120</text>
  <text x="0" y="0" font-size="14" transform="translate(1508,170) rotate(-90)">VG4 (mV)</text>
  <text x="1520" y="234" font-size="12">-120</text><text x="1572" y="234" font-size="12">VG1(mV)</text><text x="1654" y="234" font-size="12">-40</text>
 </g>
 <g>
  <text x="1465" y="243" font-weight="bold" font-size="14">f</text>
  <path d="M1488,248 C1495,330 1530,300 1540,270 S1560,200 1565,250" fill="none" stroke="#999"/>
  <path d="M1495,242 C1500,300 1530,290 1538,265" fill="none" stroke="#999"/>
  <path d="M1582,250 C1590,330 1625,310 1630,270 S1655,180 1660,250" fill="none" stroke="#999"/>
  <path d="M1680,250 C1685,320 1715,300 1725,270 S1745,200 1755,250" fill="none" stroke="#999"/>
  <circle cx="1510" cy="265" r="4" fill="#6d83b5"/><circle cx="1525" cy="280" r="4" fill="#6d83b5"/><circle cx="1505" cy="285" r="4" fill="#fff" stroke="#555"/>
  <circle cx="1600" cy="275" r="4" fill="#6d83b5"/><circle cx="1635" cy="268" r="4" fill="#6d83b5"/><circle cx="1598" cy="258" r="4" fill="#fff" stroke="#555"/>
  <circle cx="1695" cy="265" r="4" fill="#6d83b5"/><circle cx="1730" cy="275" r="4" fill="#6d83b5"/><circle cx="1693" cy="250" r="4" fill="#fff" stroke="#555"/>
  <path d="M1485,258 Q1500,245 1512,262" fill="none" stroke="#3556a8" stroke-width="2"/>
  <text x="1512" y="277" fill="#e52d2d" font-size="16">✕</text>
  <path d="M1700,262 Q1725,245 1740,262" fill="none" stroke="#3556a8" stroke-width="2"/>
  <line x1="1480" y1="375" x2="1480" y2="296" stroke="#000" stroke-width="1.3"/>
  <line x1="1480" y1="375" x2="1757" y2="375" stroke="#000" stroke-width="1.3"/>
  <polyline points="1482,322 1570,322 1570,365 1633,365 1638,360 1641,370 1645,360 1649,370 1653,360 1657,370 1661,365 1678,365 1678,322 1745,322" fill="none" stroke="#999" stroke-width="1.5"/>
  <text x="0" y="0" font-size="14" transform="translate(1476,368) rotate(-90)">detuning</text>
  <text x="1485" y="345" font-size="11">0</text>
  <text x="1508" y="335" font-size="12">Initialize</text>
  <text x="1592" y="335" font-size="12">Manipulate</text>
  <text x="1686" y="335" font-size="12">Read out</text>
  <text x="1632" y="352" fill="#999" font-size="10">tburst</text>
  <text x="1725" y="372" font-size="13">time</text>
 </g>
</g>

<!-- Figure 2 static labels -->
<g font-size="12">
 <text x="0" y="0" font-size="13" transform="translate(1965,270) rotate(-90)">Frequency (GHz)</text>
 <text x="2042" y="368" font-size="13">|B| (T)</text>
 <text x="2212" y="368" font-size="13">|B| (T)</text>
 <text x="2383" y="368" font-size="13">θ (deg)</text>
 <text x="2537" y="82" font-size="13">Current (pA)</text>
 <text x="2550" y="100" font-size="12">1.0&#160;&#160;1.5</text>
 <rect x="2533" y="105" width="87" height="12" fill="url(#cbar2)" stroke="#555" stroke-width="0.5"/>
 <text x="2530" y="285" font-size="13">Detuning (mV)</text>
 <text x="0" y="0" font-size="13" transform="translate(2668,145) rotate(90)">Frequency (GHz)</text>
</g>
</svg>

<script>
// ================== DATA ==================
const fig2BandFreqs = [8.6, 7.35, 7.05, 6.75, 6.45, 6.15, 5.9, 4.9, 4.55, 3.55, 3.35, 3.15, 2.9];
const fig2BandDark = [0.45, 0.7, 0.8, 0.9, 0.9, 0.75, 0.55, 0.3, 0.3, 0.75, 1.0, 0.85, 0.4];
const fig2FreqTicks = [0, 5, 10];
const fig2FieldTicks = [-0.1, 0.0, 0.1];
const fig2AngleTicks = [-180, 0];
const fig2aUpperB = [-0.13, -0.1, -0.06, -0.03, 0, 0.03, 0.06, 0.1, 0.13];
const fig2aUpperF = [9.6, 9.0, 8.2, 7.5, 7.0, 7.5, 8.2, 9.0, 9.6];
const fig2aLowerB = [-0.04, -0.02, 0, 0.02, 0.04];
const fig2aLowerF = [1.4, 0.9, 0.5, 0.9, 1.4];
const fig2gLinesA = [[0.02, 7.3, 0.13, 10.2], [0.02, 0.9, 0.13, 3.8]];
const fig2gLinesB = [[0.0, 7.1, 0.03, 9.3], [0.0, 7.1, 0.02, 8.0], [0.0, 0.8, 0.05, 2.6]];
const fig2gLabelsA = ["g=1.8", "g=1.9"];
const fig2gLabelsB = ["g=4.5", "g=3.0", "g=2.7"];
const fig2cAngles = [-300, -270, -240, -210, -180, -150, -120, -90, -60, -30, 0, 30, 60];
const fig2cUpperF = [6.7, 7.5, 7.8, 7.5, 6.8, 7.5, 7.8, 7.5, 6.8, 7.5, 7.8, 7.5, 6.8];
const fig2cLowerF = [1.2, 1.5, 1.6, 1.4, 0.9, 1.4, 1.6, 1.5, 1.2, 1.5, 1.6, 1.4, 1.0];
const fig2cPredAngles = [-90, -60, -30, 0, 30, 60];
const fig2cPredF = [0.45, 0.55, 0.62, 0.62, 0.5, 0.42];
const fig2dDetuning = [1.0, 0, -1, -2, -3];
const fig2dUpperF = [7.3, 7.05, 6.75, 6.45, 6.15];
const fig2dLowerF = [6.4, 6.05, 5.7, 5.4, 5.1];
const fig2dFreqTicks = [5, 8];
const fig2dDetTicks = [0, -2];

const fig3aTimes = [0,2.5,5,7.5,10,12.5,15,17.5,20,22.5,25,27.5,30,32.5,35,37.5,40,42.5,45,47.5,50,52.5,55,57.5,60,62.5,65,67.5,70,72.5,75];
const fig3aTop = [2.42,2.55,2.64,2.66,2.6,2.53,2.52,2.56,2.63,2.65,2.62,2.57,2.55,2.57,2.6,2.63,2.64,2.62,2.61,2.62,2.64,2.66,2.66,2.65,2.66,2.68,2.69,2.69,2.70,2.71,2.72];
const fig3aMid = [2.15,2.3,2.42,2.44,2.38,2.28,2.22,2.22,2.28,2.34,2.35,2.31,2.27,2.25,2.28,2.31,2.33,2.32,2.3,2.29,2.31,2.33,2.34,2.33,2.33,2.35,2.36,2.36,2.37,2.37,2.38];
const fig3aBot = [1.78,1.86,1.95,2.04,2.11,2.14,2.13,2.08,2.02,1.97,1.95,1.97,2.01,2.05,2.06,2.05,2.02,2.0,1.99,2.01,2.03,2.05,2.05,2.04,2.03,2.03,2.04,2.05,2.05,2.06,2.06];
const fig3aTraceLabels = ["-23 dBm", "-27 dBm", "-31 dBm"];
const fig3bAmp = [8, 13, 17, 21, 26, 30, 34];
const fig3bRabi = [18, 33, 42, 54, 60, 68, 79];
const fig3bSlope = 2.3;
const fig3cAngle = [50, 61, 77, 90, 99, 108, 120];
const fig3cRabi = [15, 41, 66, 100, 64, 41, 34];
const fig3cTheoryAngle = [40, 50, 60, 70, 80, 90, 100, 110, 120, 130];
const fig3cTheory = [8, 18, 32, 52, 78, 92, 78, 52, 32, 18];

const fig4aAmp = [202,205,188,188,188,176,138,100,98,78,46,24,23,18,16,14,10,12,14,13,9,11,8,10,12,9,8,10,11,13,9,8,10,12,10,8,9,11,10,12,9,8,10,11,9,10,12,11,9,8,10,12,13,11,9,10,12,14,11,10,13,15,12];
const fig4aFitA = 192, fig4aFitOffset = 10, fig4aT2 = 8;
const fig4aInsetPhase = [-360,-330,-300,-270,-240,-210,-180,-150,-120,-90,-60,-30,0,30,60,90,120,150,180,210,240,270,300,330,360];
const fig4aInset5ns = [1.55,1.57,1.62,1.70,1.78,1.84,1.86,1.84,1.78,1.70,1.62,1.57,1.55,1.57,1.62,1.70,1.78,1.84,1.86,1.84,1.78,1.70,1.62,1.57,1.55];
const fig4aInset20ns = [1.88,1.89,1.88,1.88,1.89,1.9,1.89,1.88,1.89,1.88,1.88,1.89,1.88,1.88,1.89,1.89,1.9,1.89,1.88,1.88,1.89,1.88,1.88,1.88,1.88];
const fig4bBlue = [40,48,38,36,34,25,25,16,22,28,20,20,22,15,18,19,20,16,18,19,17,12,8,6,5,3,-1,-2,-3,-4,-3,-2,-1,-4,-3,-1,0,1,-2,-1,2,6,0,-2,-3,-1,0,1,1,0,0,2,0];
const fig4bRed = [-52,-57,-57,-52,-44,-38,-35,-32,-28,-25,-27,-22,-21,-20,-17,-18,-14,-12,-10,-8,-6,-3,-2,-1,0,1,2,3,4,5,5,4,3,5,3,2,0,-2,-3,-6,0,2,-1,-2,-3,-4,-2,1,0,2,-3,-5,5];
const fig4bFitBlueA = 43, fig4bFitRedA = -58, fig4bTecho = 65, fig4bAlpha = 1.3;
const fig4bInsetRed = [1.81,1.80,1.77,1.74,1.72,1.71,1.71,1.72,1.75,1.78,1.80,1.81,1.81,1.80,1.77,1.74,1.72,1.71,1.71,1.72,1.75,1.78,1.80,1.81,1.81];
const fig4bInsetBlue = [1.66,1.67,1.70,1.74,1.77,1.79,1.80,1.78,1.75,1.71,1.68,1.66,1.66,1.67,1.70,1.74,1.77,1.79,1.80,1.78,1.75,1.71,1.68,1.66,1.66];
const fig4cAngle = [35, 45, 55, 65, 70, 75, 80, 85, 90, 90];
const fig4cTecho = [48, 41, 18, 30, 50, 44, 35, 31, 65, 48];
const fig4cT2Angle = [35, 45, 55, 65, 70, 75, 80, 85, 90];
const fig4cT2 = [11, 12, 4, 6, 10, 9, 7, 11, 8];
const fig4dFreq = [5.55, 5.93, 6.3, 6.3];
const fig4dTecho = [48, 80, 65, 48];
const fig4dT2Freq = [5.55, 5.93, 6.3];
const fig4dT2 = [10, 8, 9];

// ================== DRAWING ==================
const NS = 'http://www.w3.org/2000/svg';
const svg = document.getElementById('figs');
function mk(tag, attrs, parent) {
  const e = document.createElementNS(NS, tag);
  for (const k in attrs) e.setAttribute(k, attrs[k]);
  (parent || svg).appendChild(e);
  return e;
}
function txt(x, y, s, size, parent, extra) {
  const t = mk('text', Object.assign({x: x, y: y, 'font-size': size || 11}, extra || {}), parent);
  t.textContent = s;
  return t;
}
function lin(a, b, c, d) { return v => c + (v - a) * (d - c) / (b - a); }
function frame(x, y, w, h, name) {
  const r = mk('rect', {x: x, y: y, width: w, height: h, fill: 'none', stroke: '#333', 'stroke-width': 1});
  
  
  return r;
}
function poly(xs, ys, sx, sy, color, width, name, dash) {
  const pts = xs.map((v, i) => sx(v).toFixed(1) + ',' + sy(ys[i]).toFixed(1)).join(' ');
  const p = mk('polyline', {points: pts, fill: 'none', stroke: color, 'stroke-width': width || 1});
  if (dash) p.setAttribute('stroke-dasharray', dash);
  
  
  return p;
}
function dots(xs, ys, sx, sy, color, r, name, hollow) {
  const g = mk('g', {});
  
  
  xs.forEach((v, i) => {
    const c = mk('circle', {cx: sx(v), cy: sy(ys[i]), r: r, fill: hollow ? 'none' : color, stroke: color, 'stroke-width': 1});
    
    
    g.appendChild(c);
  });
  return g;
}

// ---------- Figure 2 ----------
const f2y = lin(0, 10, 335, 89);
function heatPanel(x0, x1, name, base) {
  const g = mk('g', {});
  
  
  const r = mk('rect', {x: x0, y: 64, width: x1 - x0, height: 271, fill: base}, g);
  
  
  fig2BandFreqs.forEach((f, i) => {
    const b = mk('rect', {x: x0, y: f2y(f) - 2, width: x1 - x0, height: 4, fill: '#0d2f85', opacity: fig2BandDark[i] * 0.8}, g);
    
    
  });
  const w = mk('rect', {x: x0 + 1, y: 65, width: x1 - x0 - 2, height: 18, fill: '#fff'}, g);
  
  
  frame(x0, 64, x1 - x0, 271, name + '-frame');
  fig2FreqTicks.forEach(f => {
    const t = mk('line', {x1: x0, x2: x0 + 4, y1: f2y(f), y2: f2y(f), stroke: '#333'}, g);
    
    
  });
  return g;
}
const f2ax = lin(0, 0.1, 2061, 2119);
const gA = heatPanel(1978, 2142, 'fig2-panel-a', '#8fa9da');
const midA = mk('rect', {x: 2058, y: 64, width: 7, height: 271, fill: '#c9d7f0', opacity: 0.6}, gA);


poly(fig2aUpperB, fig2aUpperF, f2ax, f2y, '#1d3c8c', 1.5, 'fig2a-upper-resonance');
poly(fig2aLowerB, fig2aLowerF, f2ax, f2y, '#1d3c8c', 1.5, 'fig2a-lower-resonance');
fig2gLinesA.forEach((L, i) => {
  poly([L[0], L[2]], [L[1], L[3]], f2ax, f2y, '#e52d2d', 1.5, 'fig2a-g-line', '5 3');
  txt(f2ax((L[0] + L[2]) / 2) - 8, f2y((L[1] + L[3]) / 2) + 3, fig2gLabelsA[i], 11, svg, {fill: '#e52d2d'});
});
txt(1981, 79, 'a', 12, svg, {'font-weight': 'bold'});
txt(2012, 79, 'Field along x (θ = 90°)', 11);
const f2bx = lin(0, 0.1, 2230, 2288);
const gB = heatPanel(2148, 2312, 'fig2-panel-b', '#a9c0e8');
[[-0.12, -0.05], [0.02, 0.06]].forEach(r => {
  const e = mk('rect', {x: f2bx(r[0]), y: 83, width: f2bx(r[1]) - f2bx(r[0]), height: 252, fill: '#e3ecfa', opacity: 0.75}, gB);
  
  
});
[[-0.14, -0.05], [0.05, 0.14]].forEach(r => {
  const e = mk('rect', {x: f2bx(r[0]), y: f2y(7.2), width: f2bx(r[1]) - f2bx(r[0]), height: f2y(5.8) - f2y(7.2), fill: '#0b3080', opacity: 0.8}, gB);
  
  
});
fig2gLinesB.forEach((L, i) => {
  poly([L[0], L[2]], [L[1], L[3]], f2bx, f2y, '#e52d2d', 1.5, 'fig2b-g-line', '5 3');
  txt(f2bx(L[2]) + 2, f2y(L[3]) + 4 + i * 4, fig2gLabelsB[i], 11, svg, {fill: '#e52d2d'});
});
txt(2151, 79, 'b', 12, svg, {'font-weight': 'bold'});
txt(2188, 79, 'Field along z (θ = 0°)', 11);
const f2cx = lin(-180, 0, 2365, 2434);
heatPanel(2318, 2482, 'fig2-panel-c', '#a3bbe4');
poly(fig2cAngles, fig2cUpperF, f2cx, f2y, '#1d3c8c', 1.5, 'fig2c-upper-arcs');
poly(fig2cAngles, fig2cLowerF, f2cx, f2y, '#1d3c8c', 1.5, 'fig2c-lower-arcs');
poly(fig2cPredAngles, fig2cPredF, f2cx, f2y, '#e52d2d', 1.5, 'fig2c-predicted-resonance', '4 3');
txt(2321, 79, 'c', 12, svg, {'font-weight': 'bold'});
txt(2410, 79, '|B| = 16 mT', 11);
fig2FreqTicks.forEach(f => txt(1962, f2y(f) + 4, String(f), 11));
fig2FieldTicks.forEach(b => { txt(f2ax(b) - 9, 350, b.toFixed(1), 11); txt(f2bx(b) - 9, 350, b.toFixed(1), 11); });
fig2AngleTicks.forEach(a => txt(f2cx(a) - 8, 350, String(a), 11));
const f2dy = lin(5, 8, 240, 138);
const f2dx = lin(0, -2, 2535, 2602);
const gD = mk('g', {});


const dBg = mk('rect', {x: 2492, y: 163, width: 162, height: 86, fill: '#9fb6e0'}, gD);


frame(2492, 137, 162, 112, 'fig2d-frame');
poly(fig2dDetuning, fig2dUpperF, f2dx, f2dy, '#1d3c8c', 2, 'fig2d-upper-resonance');
poly(fig2dDetuning, fig2dLowerF, f2dx, f2dy, '#1d3c8c', 2, 'fig2d-lower-resonance');
txt(2496, 156, 'd', 12, svg, {'font-weight': 'bold'});
txt(2540, 156, '|B| = 42 mT, θ = 90°', 11);
fig2dFreqTicks.forEach(f => txt(2658, f2dy(f) + 4, String(f), 11));
fig2dDetTicks.forEach(d => txt(f2dx(d) - 4, 263, String(d), 11));

// ---------- Figure 3 ----------
const f3ax = lin(0, 75, 1982, 2283);
const f3ay = lin(2.0, 2.5, 617, 540);
frame(1982, 494, 321, 165, 'fig3a-frame');
[[fig3aTop, 'top'], [fig3aMid, 'middle'], [fig3aBot, 'bottom']].forEach(([arr, nm]) => {
  poly(fig3aTimes, arr, f3ax, f3ay, '#8b1a1a', 1.2, 'fig3a-fit-' + nm);
  dots(fig3aTimes, arr, f3ax, f3ay, '#8b1a1a', 3, 'fig3a-data-' + nm, true);
});
txt(1987, 510, 'a', 13, svg, {'font-weight': 'bold'});
txt(2195, 507, '6.3 GHz, 15 mT, θ = 90°', 11);
txt(2250, 528, fig3aTraceLabels[0], 11);
txt(2250, 578, fig3aTraceLabels[1], 11);
txt(2250, 640, fig3aTraceLabels[2], 11);
txt(1962, 544, '2.5', 11); txt(1962, 621, '2.0', 11);
txt(1979, 672, '0', 11); txt(2115, 674, 'tburst (ns)', 11); txt(2275, 672, '75', 11);
txt(0, 0, 'Current (pA)', 12, svg, {transform: 'translate(1955,620) rotate(-90)'});
const f3bx = lin(0, 30, 1982, 2083);
const f3by = lin(0, 80, 797, 700);
frame(1982, 689, 133, 108, 'fig3b-frame');
poly([0, 38], [0, 38 * fig3bSlope], f3bx, f3by, '#6a1b9a', 1.3, 'fig3b-linear-fit');
dots(fig3bAmp, fig3bRabi, f3bx, f3by, '#e52d2d', 2.5, 'fig3b-rabi-points');
txt(1987, 703, 'b', 13, svg, {'font-weight': 'bold'});
txt(2075, 785, 'θ = 90°', 10);
txt(1966, 704, '80', 11); txt(1972, 800, '0', 11);
txt(1979, 810, '0', 11); txt(2078, 810, '30', 11);
txt(1995, 826, 'Microwave amplitude (mV)', 11);
txt(0, 0, 'Rabi frequency (MHz)', 11, svg, {transform: 'translate(1958,802) rotate(-90)'});
const f3cx = lin(60, 90, 2192, 2238);
const f3cy = lin(0, 100, 797, 708);
frame(2163, 689, 137, 108, 'fig3c-frame');
poly(fig3cTheoryAngle, fig3cTheory, f3cx, f3cy, '#d23c9a', 1.3, 'fig3c-theory');
const ax3 = mk('line', {x1: f3cx(90), x2: f3cx(90), y1: 689, y2: 797, stroke: '#bbb'});


dots(fig3cAngle, fig3cRabi, f3cx, f3cy, '#e52d2d', 2.5, 'fig3c-rabi-points');
txt(2167, 703, 'c', 13, svg, {'font-weight': 'bold'});
txt(2140, 712, '100', 11); txt(2152, 800, '0', 11);
[60, 90, 120].forEach(a => txt(f3cx(a) - 7, 810, String(a), 11));
txt(2215, 826, 'θ (deg)', 11);
txt(0, 0, 'Rabi frequency (MHz)', 11, svg, {transform: 'translate(2138,802) rotate(-90)'});

// ---------- Figure 4 ----------
const f4ax = lin(0, 25, 2912, 3041);
const f4ay = lin(0, 200, 241, 114);
frame(2912, 83, 323, 161, 'fig4a-frame');
const tA = fig4aAmp.map((v, i) => i);
const tFit = []; const vFit = [];
for (let t = 0; t <= 62; t += 0.5) { tFit.push(t); vFit.push(fig4aFitOffset + fig4aFitA * Math.exp(-Math.pow(t / fig4aT2, 2))); }
poly(tFit, vFit, f4ax, f4ay, '#46d846', 1, 'fig4a-gaussian-fit');
dots(tA, fig4aAmp, f4ax, f4ay, '#3ee03e', 2.5, 'fig4a-fringe-points');
txt(2870, 93, 'a)', 13);
txt(2887, 118, '200', 11); txt(2900, 245, '0', 11);
txt(2909, 262, '0', 11); txt(3036, 262, '25', 11); txt(3166, 262, '50', 11);
txt(3070, 264, 'τ (ns)', 12);
txt(0, 0, 'Fringe amplitude (fA)', 12, svg, {transform: 'translate(2888,235) rotate(-90)'});
const f4aix = lin(-360, 360, 3062, 3223);
const f4aiy = lin(1.5, 2.0, 159, 97);
frame(3056, 89, 169, 69, 'fig4a-inset-frame');
poly(fig4aInsetPhase, fig4aInset20ns, f4aix, f4aiy, '#1e6b1e', 2.5, 'fig4a-inset-tau20');
poly(fig4aInsetPhase, fig4aInset5ns, f4aix, f4aiy, '#2a8a2a', 2.5, 'fig4a-inset-tau5');
txt(3180, 100, 'τ = 20 ns', 9, svg, {fill: '#1e6b1e'});
txt(3180, 153, 'τ = 5 ns', 9, svg, {fill: '#2a8a2a'});
txt(3040, 100, '2.0', 10); txt(3040, 160, '1.5', 10);
txt(3055, 170, '-360', 10); txt(3135, 170, '0', 10); txt(3150, 172, 'φ (deg)', 10); txt(3208, 170, '360', 10);
txt(0, 0, 'Current (pA)', 10, svg, {transform: 'translate(3034,155) rotate(-90)'});
const pulseA = mk('polyline', {points: '3080,197 3085,187 3090,207 3095,187 3100,197 3130,197 3135,187 3140,207 3145,187 3150,207 3155,187 3160,207 3165,187 3170,197', fill: 'none', stroke: '#aaa', 'stroke-width': 1.2});


txt(3078, 220, 'πX/2', 10, svg, {fill: '#aaa'}); txt(3148, 220, '3πφ/2', 10, svg, {fill: '#aaa'});
const f4bx = lin(0, 100, 2912, 3046);
const f4by = lin(0, 60, 395, 327.5);
frame(2912, 273, 323, 205, 'fig4b-frame');
const tB = fig4bBlue.map((v, i) => 5 + i * 5);
const tbF = []; const bF = []; const rF = [];
for (let t = 0; t <= 240; t += 3) { tbF.push(t); const d = Math.exp(-Math.pow(t / fig4bTecho, fig4bAlpha)); bF.push(fig4bFitBlueA * d); rF.push(fig4bFitRedA * d); }
poly(tbF, bF, f4bx, f4by, '#000', 1.5, 'fig4b-blue-fit');
poly(tbF, rF, f4bx, f4by, '#000', 1.5, 'fig4b-red-fit');
dots(tB, fig4bBlue, f4bx, f4by, '#2a4fe0', 2.5, 'fig4b-blue-points');
dots(tB, fig4bRed, f4bx, f4by, '#e52020', 2.5, 'fig4b-red-points');
txt(2870, 282, 'b)', 13);
txt(2893, 331, '60', 11); txt(2900, 399, '0', 11); txt(2890, 465, '-60', 11);
txt(2909, 496, '0', 11); txt(3038, 496, '100', 11); txt(3172, 496, '200', 11);
txt(3070, 498, 'τ (ns)', 12);
txt(0, 0, 'Fringe amplitude (fA)', 12, svg, {transform: 'translate(2888,445) rotate(-90)'});
const f4bix = lin(-360, 360, 3062, 3223);
const f4biy = lin(1.7, 1.8, 336, 296);
frame(3056, 279, 169, 76, 'fig4b-inset-frame');
poly(fig4aInsetPhase, fig4bInsetRed, f4bix, f4biy, '#e52020', 1, 'fig4b-inset-red-fit');
poly(fig4aInsetPhase, fig4bInsetBlue, f4bix, f4biy, '#2a4fe0', 1, 'fig4b-inset-blue-fit');
dots(fig4aInsetPhase, fig4bInsetRed, f4bix, f4biy, '#e52020', 2, 'fig4b-inset-red-points');
dots(fig4aInsetPhase, fig4bInsetBlue, f4bix, f4biy, '#2a4fe0', 2, 'fig4b-inset-blue-points');
txt(3040, 300, '1.8', 10); txt(3040, 340, '1.7', 10);
txt(3055, 367, '-360', 10); txt(3135, 367, '0', 10); txt(3150, 369, 'φ (deg)', 10); txt(3208, 367, '360', 10);
txt(0, 0, 'Current (pA)', 10, svg, {transform: 'translate(3034,350) rotate(-90)'});
const pulseB = mk('polyline', {points: '3080,432 3085,422 3090,442 3095,422 3100,432 3125,432 3130,422 3135,442 3140,422 3145,442 3150,432 3175,432 3180,422 3185,442 3190,422 3195,432', fill: 'none', stroke: '#aaa', 'stroke-width': 1.2});


txt(3078, 455, 'πX/2', 10, svg, {fill: '#aaa'}); txt(3125, 455, 'πX', 10, svg, {fill: '#2a4fe0'}); txt(3140, 455, 'πY', 10, svg, {fill: '#e52020'}); txt(3180, 455, 'πφ/2', 10, svg, {fill: '#aaa'});
const f4cx = lin(30, 90, 2921, 3051);
const f4cy = lin(0, 60, 632, 550);
frame(2914, 507, 148, 126, 'fig4c-frame');
dots(fig4cAngle, fig4cTecho, f4cx, f4cy, '#111', 2.5, 'fig4c-techo-points');
dots(fig4cT2Angle, fig4cT2, f4cx, f4cy, '#3ec83e', 2.2, 'fig4c-t2star-points', true);
txt(2870, 517, 'c)', 13);
txt(3000, 522, '6.303 GHz', 10);
txt(2935, 528, 'T2*', 10); txt(2935, 545, 'Techo', 10);
txt(2900, 554, '60', 10); txt(2905, 635, '0', 10);
[30, 60, 90].forEach(a => txt(f4cx(a) - 6, 647, String(a), 10));
txt(2960, 660, 'θ (deg)', 11);
txt(0, 0, 'Time (ns)', 11, svg, {transform: 'translate(2896,615) rotate(-90)'});
const f4dx = lin(5.5, 6.0, 3103, 3171);
const f4dy = lin(0, 60, 632, 550);
frame(3076, 507, 157, 126, 'fig4d-frame');
dots(fig4dFreq, fig4dTecho, f4dx, f4dy, '#111', 2.5, 'fig4d-techo-points');
dots(fig4dT2Freq, fig4dT2, f4dx, f4dy, '#3ec83e', 2.2, 'fig4d-t2star-points', true);
txt(3067, 517, 'd)', 13);
txt(3195, 522, 'θ = 90°', 10);
txt(3080, 554, '60', 10);
txt(f4dx(5.5) - 8, 647, '5.5', 10); txt(f4dx(6.0) - 8, 647, '6.0', 10);
txt(3090, 660, 'Resonance frequency (GHz)', 10);
</script>
</body>
</html>
